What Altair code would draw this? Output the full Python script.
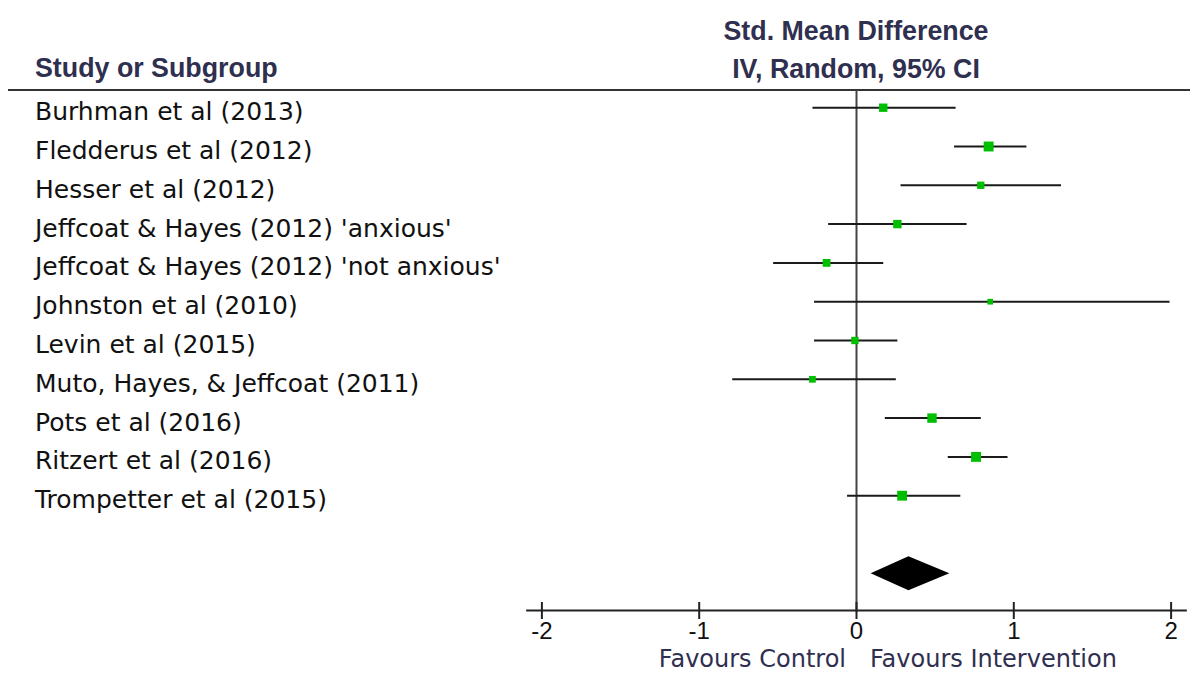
import altair as alt
import pandas as pd

# ---------------- data ----------------
studies = [
    "Burhman et al (2013)",
    "Fledderus et al (2012)",
    "Hesser et al (2012)",
    "Jeffcoat & Hayes (2012) 'anxious'",
    "Jeffcoat & Hayes (2012) 'not anxious'",
    "Johnston et al (2010)",
    "Levin et al (2015)",
    "Muto, Hayes, & Jeffcoat (2011)",
    "Pots et al (2016)",
    "Ritzert et al (2016)",
    "Trompetter et al (2015)",
]
smd = [0.17, 0.84, 0.79, 0.26, -0.19, 0.85, -0.01, -0.28, 0.48, 0.76, 0.29]
ci_low = [-0.28, 0.62, 0.28, -0.18, -0.53, -0.27, -0.27, -0.79, 0.18, 0.58, -0.06]
ci_high = [0.63, 1.08, 1.30, 0.70, 0.17, 1.99, 0.26, 0.25, 0.79, 0.96, 0.66]
weight = [9.1, 12.8, 7.0, 9.1, 7.9, 4.2, 7.0, 5.9, 11.5, 12.8, 12.6]

pooled_smd = 0.33
pooled_low = 0.09
pooled_high = 0.59

tick_values = [-2, -1, 0, 1, 2]
tick_labels = ["-2", "-1", "0", "1", "2"]
axis_min, axis_max = -2.1, 2.1

header_left = "Study or Subgroup"
header_right = ["Std. Mean Difference", "IV, Random, 95% CI"]
favours = ["Favours Control", "Favours Intervention"]

# ---------------- tables ----------------
rows = list(range(len(studies)))
df = pd.DataFrame({"study": studies, "row": rows, "smd": smd,
                   "lo": ci_low, "hi": ci_high, "w": weight})
pooled_row = len(studies) + 1
half = 0.438
diamond = pd.DataFrame({
    "x": [pooled_low, pooled_smd, pooled_high],
    "y": [pooled_row, pooled_row - half, pooled_row],
    "y2": [pooled_row, pooled_row + half, pooled_row],
})
ticks = pd.DataFrame({"v": tick_values, "lab": tick_labels})
header_row = -0.456
axis_row = 12.96
zero_df = pd.DataFrame({"v": [0], "top": [header_row], "bot": [axis_row + 0.03]})
axis_df = pd.DataFrame({"a": [axis_min], "b": [axis_max], "r": [axis_row]})
hline_df = pd.DataFrame({"r": [header_row]})

W, H = 1182, 665
xs = alt.Scale(domain=[-848.5 / 157.3, (W - 848.5) / 157.3], nice=False, zero=False)
ys = alt.Scale(domain=[-99.7 / 38.8, (H - 99.7) / 38.8], nice=False, zero=False, reverse=True)

LABEL_FONT = "DejaVu Sans"
HEAD_FONT = "Liberation Sans"
NAVY = "#2f2f4f"

header_line = alt.Chart(hline_df).mark_rule(color="#333333", strokeWidth=2).encode(
    x=alt.value(0), x2=alt.value(W), y=alt.Y("r:Q", scale=ys, axis=None))

zero_line = alt.Chart(zero_df).mark_rule(color="#444444", strokeWidth=2).encode(
    x=alt.X("v:Q", scale=xs, axis=None),
    y=alt.Y("top:Q", scale=ys, axis=None), y2="bot:Q")

ci = alt.Chart(df).mark_rule(color="#1a1a1a", strokeWidth=2).encode(
    x=alt.X("lo:Q", scale=xs, axis=None), x2="hi:Q",
    y=alt.Y("row:Q", scale=ys, axis=None))

squares = alt.Chart(df).mark_square(color="#00bf00", opacity=1).encode(
    x=alt.X("smd:Q", scale=xs, axis=None),
    y=alt.Y("row:Q", scale=ys, axis=None),
    size=alt.Size("w:Q", scale=alt.Scale(domain=[0, 13], range=[0, 100]), legend=None))

dia = alt.Chart(diamond).mark_area(color="black", orient="vertical", interpolate="linear").encode(
    x=alt.X("x:Q", scale=xs, axis=None),
    y=alt.Y("y:Q", scale=ys, axis=None), y2="y2:Q")

axis_line = alt.Chart(axis_df).mark_rule(color="#222222", strokeWidth=2).encode(
    x=alt.X("a:Q", scale=xs, axis=None), x2="b:Q",
    y=alt.Y("r:Q", scale=ys, axis=None))

tick_marks = alt.Chart(ticks).mark_rule(color="#222222", strokeWidth=2).encode(
    x=alt.X("v:Q", scale=xs, axis=None), y=alt.value(594), y2=alt.value(611))

tick_text = alt.Chart(ticks).mark_text(
    font=HEAD_FONT, fontSize=24, color="#111111", align="center", baseline="alphabetic"
).encode(x=alt.X("v:Q", scale=xs, axis=None), y=alt.value(631), text="lab:N")

labels = alt.Chart(df).mark_text(
    font=LABEL_FONT, fontSize=25, color="#111111", align="left", baseline="alphabetic", dy=12.5
).encode(x=alt.value(27), y=alt.Y("row:Q", scale=ys, axis=None), text="study:N")

def head(txt, x, y, align):
    return alt.Chart(pd.DataFrame({"t": [txt]})).mark_text(
        font=HEAD_FONT, fontSize=26.8, fontWeight="bold", color=NAVY,
        align=align, baseline="alphabetic").encode(
        x=alt.value(x), y=alt.value(y), text="t:N")

def fav(txt, x, align):
    return alt.Chart(pd.DataFrame({"t": [txt]})).mark_text(
        font=LABEL_FONT, fontSize=24, color=NAVY,
        align=align, baseline="alphabetic").encode(
        x=alt.value(x), y=alt.value(659), text="t:N")

chart = alt.layer(
    header_line, zero_line, ci, squares, dia, axis_line, tick_marks, tick_text, labels,
    head(header_left, 27, 69, "left"),
    head(header_right[0], 848, 31.5, "center"),
    head(header_right[1], 848, 69.5, "center"),
    fav(favours[0], 838, "right"),
    fav(favours[1], 862, "left"),
).properties(
    width=W, height=H, padding=0,
    autosize=alt.AutoSizeParams(type="none"),
    background="white",
).configure_view(stroke=None)

chart.save("out.html", embed_options={"renderer": "svg", "actions": False})
